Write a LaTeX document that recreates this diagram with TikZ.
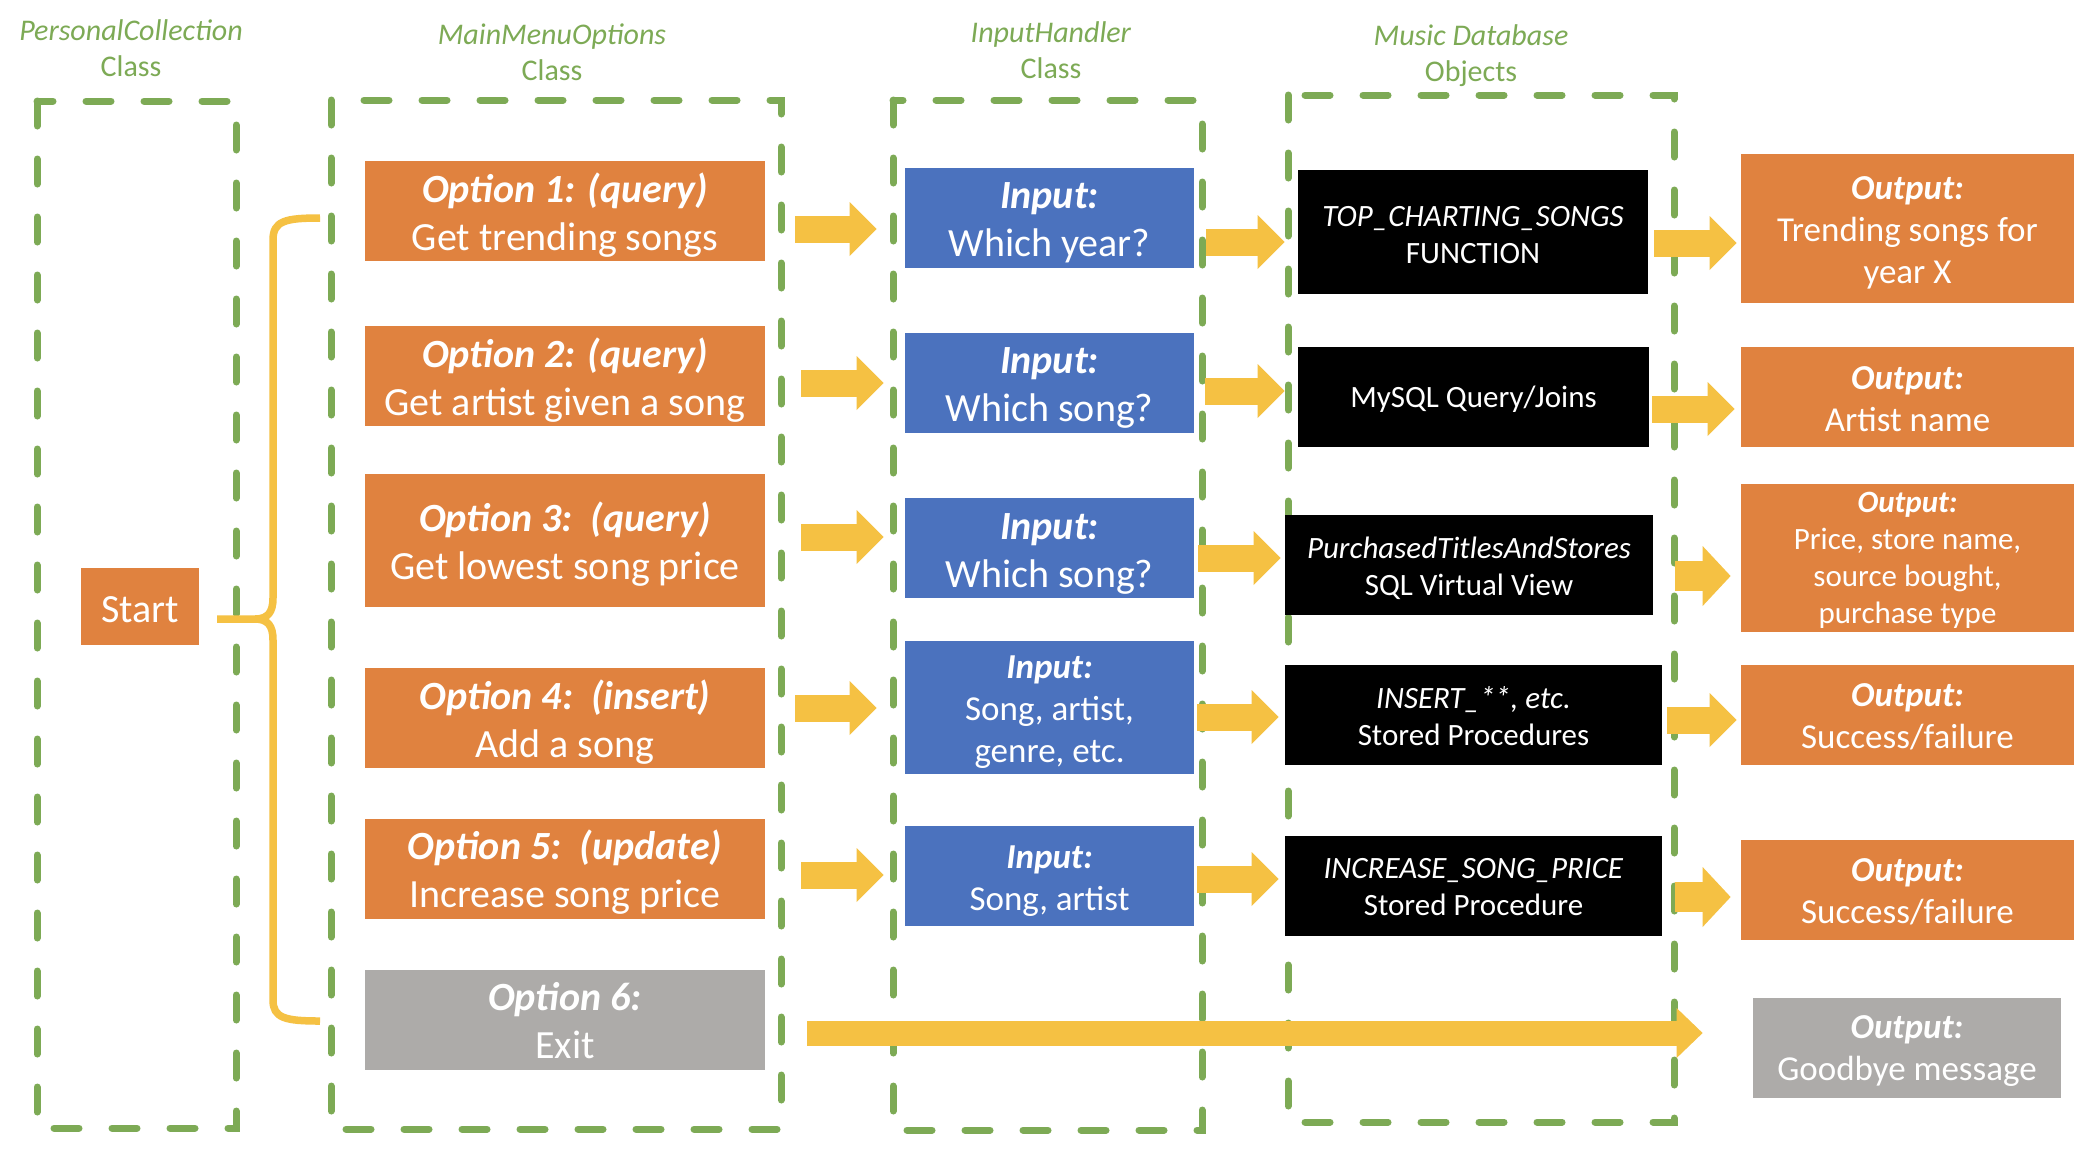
\documentclass[tikz,border=0pt]{standalone}
\usepackage{fontspec}
\setmainfont{Carlito}
\usetikzlibrary{arrows.meta}
\definecolor{cOrange}{HTML}{E0823F}
\definecolor{cBlue}{HTML}{4B72BE}
\definecolor{cGray}{HTML}{ADABA9}
\definecolor{cYellow}{HTML}{F5C143}
\definecolor{cGreen}{HTML}{7DAA55}
% box text: a centred stack of lines, lowered a little inside its box
\newcommand\tx[2][-2.7pt]{\raisebox{#1}[\height][\depth]{\begin{tabular}{@{}c@{}}#2\end{tabular}}}
\begin{document}
\begin{tikzpicture}[x=0.5pt,y=-0.5pt,
  every node/.style={inner sep=0pt, text=white},
  big/.style={font=\fontsize{20}{24}\selectfont},
  mid/.style={font=\fontsize{17.5}{21}\selectfont},
  small/.style={font=\fontsize{15.5}{18.5}\selectfont},
  optbox/.style={fill=cOrange, big, minimum width=200pt, minimum height=50pt},
  inbox/.style={fill=cBlue, big, minimum width=144.5pt, minimum height=50pt},
  dbbox/.style={fill=black, small, minimum height=50pt},
  outbox/.style={fill=cOrange, mid, minimum width=166.5pt, minimum height=50pt},
  title/.style={text=cGreen, align=center, font=\fontsize{15}{18}\selectfont},
  dashbox/.style={draw=cGreen, line width=3.5pt, line cap=round, dash pattern=on 12.5pt off 16.5pt},
  barrow/.style={draw=cYellow, line width=13.5pt, -{Triangle[length=13.5pt,width=27pt,line width=0pt]}},
  bracestyle/.style={draw=cYellow, line width=3.75pt}
]
\useasboundingbox[fill=white] (0,0) rectangle (2092,1148);

% titles
\node[title] (t1) at (131,48.5) {\textit{PersonalCollection}\\Class};
\node[title] (t2) at (552,52) {\textit{MainMenuOptions}\\Class};
\node[title] (t3) at (1051,50) {\textit{InputHandler}\\Class};
\node[title] (t4) at (1471,55.5) {\textit{Music Database}\\Objects};

% dashed containers
\draw[dashbox] (37,101) rectangle (236,1128);
\draw[dashbox] (331,100) rectangle (781,1129);
\draw[dashbox] (893,100) rectangle (1202,1130);
\draw[dashbox] (1288,95) rectangle (1674,1122);

% start
\node[fill=cOrange, big, minimum width=59pt, minimum height=38.5pt] (s) at (140,606.5) {\tx[-3pt]{Start}};

% options
\node[optbox] (o1) at (565,211) {\tx[-2.8pt]{\textbf{\textit{Option 1: (query)}}\\Get trending songs}};
\node[optbox] (o2) at (565,376) {\tx[-2.8pt]{\textbf{\textit{Option 2: (query)}}\\Get artist given a song}};
\node[optbox, minimum height=66.5pt] (o3) at (565,540.5) {\tx[-2.5pt]{\textbf{\textit{Option 3:~~(query)}}\\Get lowest song price}};
\node[optbox] (o4) at (565,718) {\tx[-2.8pt]{\textbf{\textit{Option 4:~~(insert)}}\\Add a song}};
\node[optbox] (o5) at (565,868.5) {\tx[-2.8pt]{\textbf{\textit{Option 5:~~(update)}}\\Increase song price}};
\node[optbox, fill=cGray] (o6) at (565,1020) {\tx[-2.5pt]{\textbf{\textit{Option 6:}}\\Exit}};

% inputs
\node[inbox] (i1) at (1049.5,218) {\tx[-2.5pt]{\textbf{\textit{Input:}}\\Which year?}};
\node[inbox] (i2) at (1049.5,383) {\tx[-2.5pt]{\textbf{\textit{Input:}}\\Which song?}};
\node[inbox] (i3) at (1049.5,548) {\tx[-3pt]{\textbf{\textit{Input:}}\\Which song?}};
\node[inbox, mid, minimum height=66.5pt] (i4) at (1049.5,707.5) {\tx[-2.5pt]{\textbf{\textit{Input:}}\\Song, artist,\\genre, etc.}};
\node[inbox, mid] (i5) at (1049.5,876) {\tx[-2.5pt]{\textbf{\textit{Input:}}\\Song, artist}};

% database objects
\node[dbbox, minimum width=175pt, minimum height=62pt] (d1) at (1473,232) {\tx[-2.7pt]{\textit{TOP\_CHARTING\_SONGS}\\FUNCTION}};
\node[dbbox, minimum width=175.5pt] (d2) at (1473.5,397) {\tx[-1.7pt]{MySQL Query/Joins}};
\node[dbbox, minimum width=184pt] (d3) at (1469,565) {\tx[-2.2pt]{\textit{PurchasedTitlesAndStores}\\SQL Virtual View}};
\node[dbbox, minimum width=188.5pt] (d4) at (1473.5,715) {\tx[-2.3pt]{\textit{INSERT\_**, etc.}\\Stored Procedures}};
\node[dbbox, minimum width=188.5pt] (d5) at (1473.5,886) {\tx[-1.8pt]{\textit{INCREASE\_SONG\_PRICE}\\Stored Procedure}};

% outputs
\node[outbox, minimum height=74.5pt] (u1) at (1907.5,228.5) {\tx[-2.4pt]{\textbf{\textit{Output:}}\\Trending songs for\\year X}};
\node[outbox] (u2) at (1907.5,397) {\tx[-2.3pt]{\textbf{\textit{Output:}}\\Artist name}};
\node[outbox, small, minimum height=70.5pt] (u3) at (1907.5,557.5) {\tx[-1.5pt]{\textbf{\textit{Output:}}\\Price, store name,\\source bought,\\purchase type}};
\node[outbox] (u4) at (1907.5,715) {\tx[-2pt]{\textbf{\textit{Output:}}\\Success/failure}};
\node[outbox] (u5) at (1907.5,890) {\tx[-2.2pt]{\textbf{\textit{Output:}}\\Success/failure}};
\node[outbox, fill=cGray, minimum width=154pt] (u6) at (1907,1048) {\tx[-1.5pt]{\textbf{\textit{Output:}}\\Goodbye message}};

% arrow rows
\coordinate (ya1) at (0,229);
\coordinate (ya2) at (0,383);
\coordinate (ya3) at (0,537);
\coordinate (ya4) at (0,708);
\coordinate (ya5) at (0,875);
\coordinate (yb1) at (0,242);
\coordinate (yb2) at (0,391);
\coordinate (yb3) at (0,558);
\coordinate (yb4) at (0,717);
\coordinate (yb5) at (0,879);
\coordinate (yc1) at (0,243);
\coordinate (yc2) at (0,409);
\coordinate (yc3) at (0,576);
\coordinate (yc4) at (0,720);
\coordinate (yc5) at (0,897);
\coordinate (yl) at (0,1033);

\draw[barrow, shorten <=15pt, shorten >=14pt] (o1.east |- ya1) -- (i1.west |- ya1);
\draw[barrow, shorten <=18pt, shorten >=10.5pt] (o2.east |- ya2) -- (i2.west |- ya2);
\draw[barrow, shorten <=18pt, shorten >=10.5pt] (o3.east |- ya3) -- (i3.west |- ya3);
\draw[barrow, shorten <=15pt, shorten >=14pt] (o4.east |- ya4) -- (i4.west |- ya4);
\draw[barrow, shorten <=18pt, shorten >=10.5pt] (o5.east |- ya5) -- (i5.west |- ya5);

\draw[barrow, shorten <=6pt, shorten >=6.5pt] (i1.east |- yb1) -- (d1.west |- yb1);
\draw[barrow, shorten <=5.5pt, shorten >=6.5pt] (i2.east |- yb2) -- (d2.west |- yb2);
\draw[barrow, shorten <=2pt, shorten >=2pt] (i3.east |- yb3) -- (d3.west |- yb3);
\draw[barrow, shorten <=1.5pt, shorten >=3pt] (i4.east |- yb4) -- (d4.west |- yb4);
\draw[barrow, shorten <=1.5pt, shorten >=3pt] (i5.east |- yb5) -- (d5.west |- yb5);

\draw[barrow, shorten <=3pt, shorten >=2pt] (d1.east |- yc1) -- (u1.west |- yc1);
\draw[barrow, shorten <=1.5pt, shorten >=3pt] (d2.east |- yc2) -- (u2.west |- yc2);
\draw[barrow, line width=15pt, -{Triangle[length=14pt,width=30pt,line width=0pt]}, shorten <=11pt, shorten >=5pt] (d3.east |- yc3) -- (u3.west |- yc3);
\draw[barrow, shorten <=2.5pt, shorten >=2pt] (d4.east |- yc4) -- (u4.west |- yc4);
\draw[barrow, line width=15pt, -{Triangle[length=14pt,width=30pt,line width=0pt]}, shorten <=6.5pt, shorten >=5pt] (d5.east |- yc5) -- (u5.west |- yc5);

\draw[barrow, line width=12.5pt, -{Triangle[length=13pt,width=25pt,line width=0pt]}, shorten <=21pt, shorten >=25pt] (o6.east |- yl) -- (u6.west |- yl);

% brace from Start to the options
\coordinate (bc) at (255,619);
\draw[bracestyle] (320,218) .. controls (285,218) and (273,221) .. (273,240) -- (273,598) .. controls (273,612) and (268,619) .. (bc) -- (217,619);
\draw[bracestyle] (bc) .. controls (268,619) and (273,626) .. (273,640) -- (273,1000) .. controls (273,1018) and (285,1021) .. (320,1021);
\end{tikzpicture}
\end{document}
